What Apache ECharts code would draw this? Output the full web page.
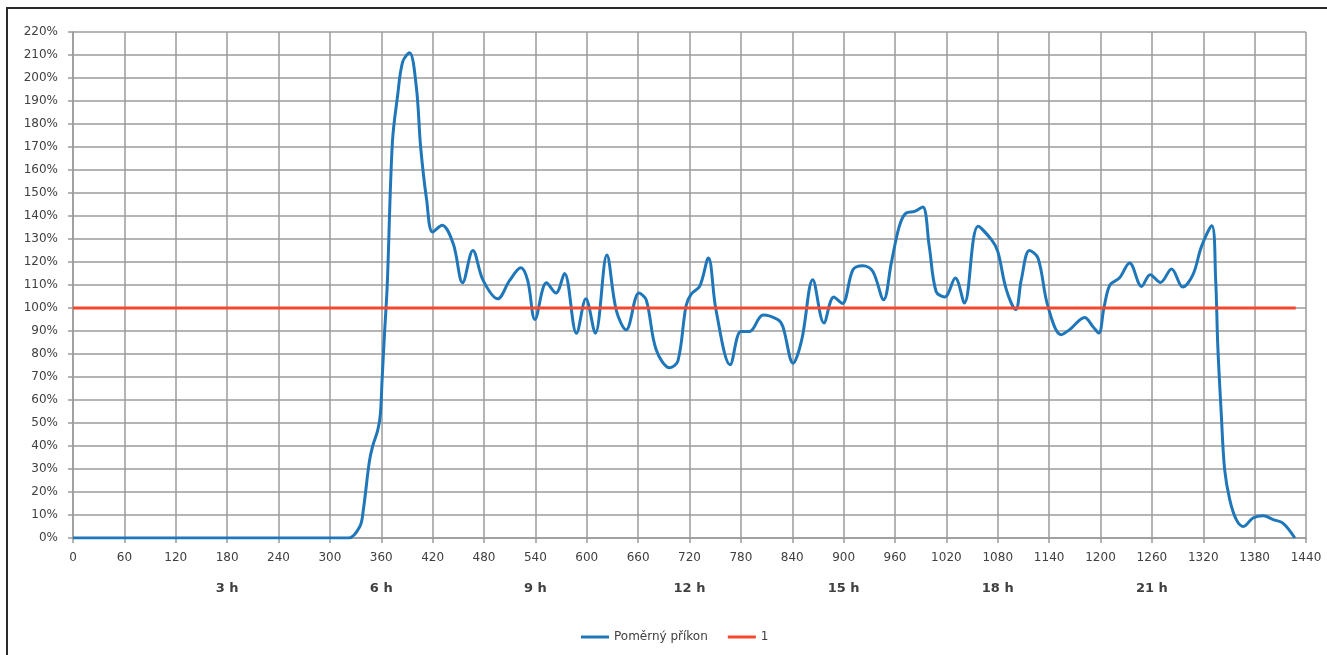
<!DOCTYPE html>
<html>
<head>
<meta charset="utf-8">
<script src="https://cdn.jsdelivr.net/npm/echarts@6/dist/echarts.min.js"></script>
<style>
  html, body { margin: 0; padding: 0; background: #fff; }
  #frame { position: absolute; left: 6px; top: 7px; width: 1330px; height: 660px;
           border-top: 2px solid #2b2b2b; border-left: 2px solid #2b2b2b; box-sizing: border-box; }
  #chart { position: absolute; left: 0; top: 0; width: 1327px; height: 655px; }
</style>
</head>
<body>
<div id="frame"></div>
<div id="chart"></div>
<script>
// ---- data (minutes of the day, relative power as fraction) ----
const minutes = [
  0, 60, 120, 180, 240, 300, 313, 322, 335, 339, 346, 350, 356, 359, 361, 364, 367,
  373, 379, 385, 393, 401, 406, 413, 420, 431, 444, 455, 467, 479, 496, 510, 523,
  531, 539.5, 553, 564, 574, 588, 599, 610, 623.5, 634.5, 646, 661, 669.5, 681, 697,
  706.5, 716, 722, 732, 742, 751, 767.5, 780, 790, 806, 823, 829, 841, 851, 864,
  877, 888.5, 898.5, 911, 922.5, 934, 946.7, 955.7, 965, 973, 983, 992.4, 1000,
  1008, 1018, 1030.5, 1041, 1057, 1072.6, 1080, 1090, 1101, 1107.5, 1117, 1127,
  1138.6, 1154, 1164, 1181.5, 1191, 1198, 1204, 1211, 1222, 1234, 1248, 1258,
  1270, 1283, 1296, 1308, 1318, 1330, 1334.5, 1337, 1341, 1345, 1351, 1358.6,
  1367, 1378, 1390, 1401.6, 1413, 1427
];
const relativePower = [
  0, 0, 0, 0, 0, 0, 0, 0, 0.05, 0.12, 0.33, 0.40, 0.47, 0.54, 0.69, 0.90, 1.10,
  1.72, 1.92, 2.07, 2.11, 1.96, 1.70, 1.47, 1.33, 1.36, 1.28, 1.11, 1.25, 1.12, 1.04, 1.12, 1.175,
  1.12, 0.95, 1.11, 1.065, 1.15, 0.89, 1.04, 0.89, 1.23, 0.99, 0.905, 1.065, 1.035, 0.82, 0.74,
  0.77, 1.01, 1.06, 1.095, 1.217, 0.99, 0.753, 0.898, 0.898, 0.97, 0.95, 0.92, 0.76, 0.86, 1.123,
  0.935, 1.048, 1.02, 1.167, 1.184, 1.16, 1.036, 1.196, 1.355, 1.413, 1.42, 1.439, 1.268,
  1.072, 1.048, 1.13, 1.022, 1.355, 1.297, 1.246, 1.08, 0.993, 1.123, 1.25, 1.217,
  1.007, 0.884, 0.906, 0.959, 0.92, 0.891, 1.00, 1.10, 1.13, 1.196, 1.094, 1.145,
  1.111, 1.17, 1.091, 1.145, 1.268, 1.358, 1.123, 0.833, 0.543, 0.297, 0.166, 0.08,
  0.05, 0.087, 0.097, 0.08, 0.065, 0
];
const referenceMinutes = [0, 1428];
const referenceValues = [1, 1];
const seriesNames = ['Poměrný příkon', '1'];
const hourLabelMinutes = [180, 360, 540, 720, 900, 1080, 1260];

const pair = (xs, ys) => xs.map((x, i) => [x, ys[i]]);

const FONT = '"DejaVu Sans", Verdana, sans-serif';
const TXT = '#404040';
const GRID = '#9b9b9b';

const chart = echarts.init(document.getElementById('chart'), null, { renderer: 'canvas' });
chart.setOption({
  animation: false,
  backgroundColor: 'transparent',
  grid: { left: 73, top: 32, right: 21, bottom: 117, containLabel: false },
  legend: {
    left: 576, top: 626,
    icon: 'rect', itemWidth: 28, itemHeight: 3, itemGap: 20,
    textStyle: { fontFamily: FONT, fontSize: 12, color: TXT },
    data: seriesNames
  },
  xAxis: [
    {
      type: 'value', min: 0, max: 1440, interval: 60,
      axisLine: { show: true, lineStyle: { color: GRID, width: 1.5 } },
      axisTick: { show: true, length: 5, lineStyle: { color: GRID, width: 1.5 } },
      splitLine: { show: true, lineStyle: { color: GRID, width: 1.5 } },
      axisLabel: { margin: 14, fontFamily: FONT, fontSize: 12, color: TXT,
                   formatter: v => String(Math.round(v)) }
    },
    {
      type: 'value', min: 0, max: 1440, interval: 180, position: 'bottom',
      axisLine: { show: false }, axisTick: { show: false }, splitLine: { show: false },
      axisLabel: {
        margin: 44, fontFamily: FONT, fontSize: 13, fontWeight: 'bold', color: TXT,
        formatter: v => hourLabelMinutes.includes(Math.round(v)) ? (Math.round(v) / 60) + ' h' : ''
      }
    }
  ],
  yAxis: {
    type: 'value', min: 0, max: 2.2, interval: 0.1,
    axisLine: { show: true, lineStyle: { color: GRID, width: 1.5 } },
    axisTick: { show: true, length: 5, lineStyle: { color: GRID, width: 1.5 } },
    splitLine: { show: true, lineStyle: { color: GRID, width: 1.5 } },
    axisLabel: {
      margin: 15, fontFamily: FONT, fontSize: 12, color: TXT,
      formatter: v => Math.round(Number(v) * 100) + '%'
    }
  },
  series: [
    {
      name: seriesNames[0], type: 'line', xAxisIndex: 0,
      data: pair(minutes, relativePower),
      smooth: 0.35, showSymbol: false, symbol: 'none',
      lineStyle: { color: '#1f77ba', width: 3 },
      itemStyle: { color: '#1f77ba' }, z: 3
    },
    {
      name: seriesNames[1], type: 'line', xAxisIndex: 0,
      data: pair(referenceMinutes, referenceValues),
      showSymbol: false, symbol: 'none',
      lineStyle: { color: '#f5472c', width: 3 },
      itemStyle: { color: '#f5472c' }, z: 4
    }
  ]
});
</script>
</body>
</html>
